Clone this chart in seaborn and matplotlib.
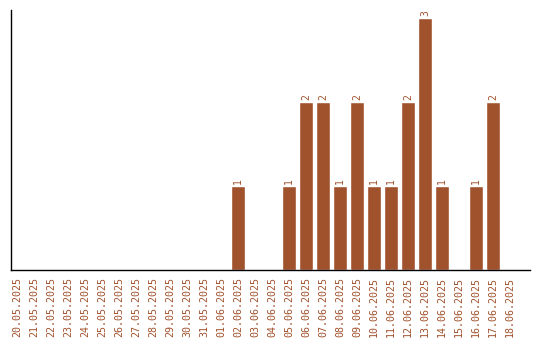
import matplotlib
matplotlib.use("Agg")
import matplotlib.pyplot as plt
import seaborn as sns
import pandas as pd

dates = ["20.05.2025", "21.05.2025", "22.05.2025", "23.05.2025", "24.05.2025",
         "25.05.2025", "26.05.2025", "27.05.2025", "28.05.2025", "29.05.2025",
         "30.05.2025", "31.05.2025", "01.06.2025", "02.06.2025", "03.06.2025",
         "04.06.2025", "05.06.2025", "06.06.2025", "07.06.2025", "08.06.2025",
         "09.06.2025", "10.06.2025", "11.06.2025", "12.06.2025", "13.06.2025",
         "14.06.2025", "15.06.2025", "16.06.2025", "17.06.2025", "18.06.2025"]
counts = [0, 0, 0, 0, 0, 0, 0, 0, 0, 0, 0, 0, 0, 1, 0, 0, 1, 2, 2, 1,
          2, 1, 1, 2, 3, 1, 0, 1, 2, 0]

color = "#A0522D"
df = pd.DataFrame({"date": dates, "count": counts})

sns.set_style("white")
plt.rcParams['font.family'] = ['DejaVu Sans Mono']

fig = plt.figure(figsize=(5.4, 3.4), dpi=100)
ax = fig.add_axes([11/540, 70/340, 519/540, 260/340])
sns.barplot(data=df, x="date", y="count", color=color, saturation=1,
            width=0.82, ax=ax)

for i, v in enumerate(counts):
    if v > 0:
        ax.text(i, v + 0.03, str(v), rotation=90, ha="center", va="bottom",
                color=color, fontsize=7)

ax.set_xlim(-0.35, 30.18)
ax.set_ylim(0, 3.1)
ax.set_xlabel("")
ax.set_ylabel("")
ax.set_yticks([])
ax.tick_params(axis="x", rotation=90, labelsize=7.2, labelcolor=color, length=0, pad=5)
for lab in ax.get_xticklabels():
    lab.set_va("top")
for s in ["top", "right"]:
    ax.spines[s].set_visible(False)
for s in ["left", "bottom"]:
    ax.spines[s].set_color("black")
    ax.spines[s].set_linewidth(1.0)

fig.savefig("out.png", dpi=100)
